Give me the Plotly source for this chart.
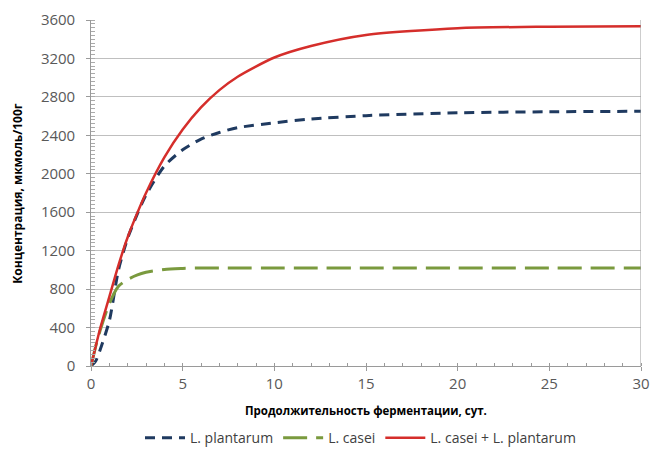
import plotly.graph_objects as go

days = [0, 0.25, 0.5, 1, 1.5, 2, 2.5, 3, 4, 5, 6, 7, 8, 10, 12, 15, 20, 25, 30]
plantarum = [0, 50, 170, 470, 1000, 1330, 1570, 1780, 2080, 2250, 2360, 2430, 2480, 2530, 2570, 2605, 2635, 2645, 2650]
casei = [0, 200, 370, 650, 830, 900, 945, 975, 1005, 1015, 1020, 1020, 1020, 1020, 1020, 1020, 1020, 1020, 1020]
mix = [0, 200, 390, 720, 1050, 1340, 1580, 1800, 2170, 2460, 2690, 2870, 3010, 3210, 3330, 3445, 3515, 3530, 3535]
x_ticks = [0, 5, 10, 15, 20, 25, 30]

names = ["L. plantarum", "L. casei", "L. casei + L. plantarum"]
colors = ["#1F3A60", "#7A9A3E", "#D52E2B"]
dashes = ["10px,7px", "24px,9px", "solid"]
widths = [3, 3, 2.5]
series = [plantarum, casei, mix]

fig = go.Figure()
for n, c, d, w, s in zip(names, colors, dashes, widths, series):
    fig.add_trace(go.Scatter(x=days, y=s, name=n, mode="lines",
                             line=dict(color=c, dash=d, width=w, shape="spline", smoothing=0.7)))

font = "Open Sans, Liberation Sans, sans-serif"
fig.update_layout(
    width=652, height=453,
    margin=dict(l=91, r=11, t=20, b=87),
    paper_bgcolor="white", plot_bgcolor="white",
    font=dict(family=font, color="#595959"),
    showlegend=True,
    legend=dict(orientation="h", x=0.49, xanchor="center", xref="paper",
                y=0.033, yanchor="middle", yref="container",
                font=dict(size=14, color="#404040"), traceorder="normal", itemwidth=40),
    xaxis=dict(range=[0, 30], tickvals=x_ticks, automargin=False,
               showgrid=False, showline=True, linecolor="#9A9A9A", linewidth=1,
               mirror=False, ticks="outside", ticklen=4, tickcolor="#9A9A9A",
               minor=dict(dtick=1, ticks="inside", ticklen=3, tickcolor="#9A9A9A"),
               tickfont=dict(size=15, color="#595959"),
               zeroline=False),
    yaxis=dict(range=[0, 3600], dtick=400, showgrid=True, gridcolor="#BFBFBF", gridwidth=1,
               automargin=False, ticksuffix="\u00a0\u00a0",
               showline=True, linecolor="#9A9A9A", linewidth=1,
               ticks="outside", ticklen=4, tickcolor="#9A9A9A",
               minor=dict(dtick=40, ticks="inside", ticklen=4, tickcolor="#AAAAAA"),
               tickfont=dict(size=15, color="#595959"),
               zeroline=False),
    annotations=[
        dict(text="<b>Продолжительность ферментации, сут.</b>", xref="paper", yref="paper",
             x=0.5, y=-0.13, xanchor="center", yanchor="middle", showarrow=False,
             font=dict(size=11.5, color="#000000")),
        dict(text="<b>Концентрация, мкмоль/100г</b>", xref="paper", yref="paper",
             x=-0.135, y=0.5, xanchor="center", yanchor="middle", showarrow=False,
             textangle=-90, font=dict(size=12, color="#000000")),
    ],
)
fig.add_shape(type="line", xref="x", yref="paper", x0=30, x1=30, y0=0, y1=1,
              line=dict(color="#9A9A9A", width=1))
fig.write_html("out.html", config={"displayModeBar": False, "responsive": False},
               post_script="document.body.style.margin='0';document.body.style.overflow='hidden';")
